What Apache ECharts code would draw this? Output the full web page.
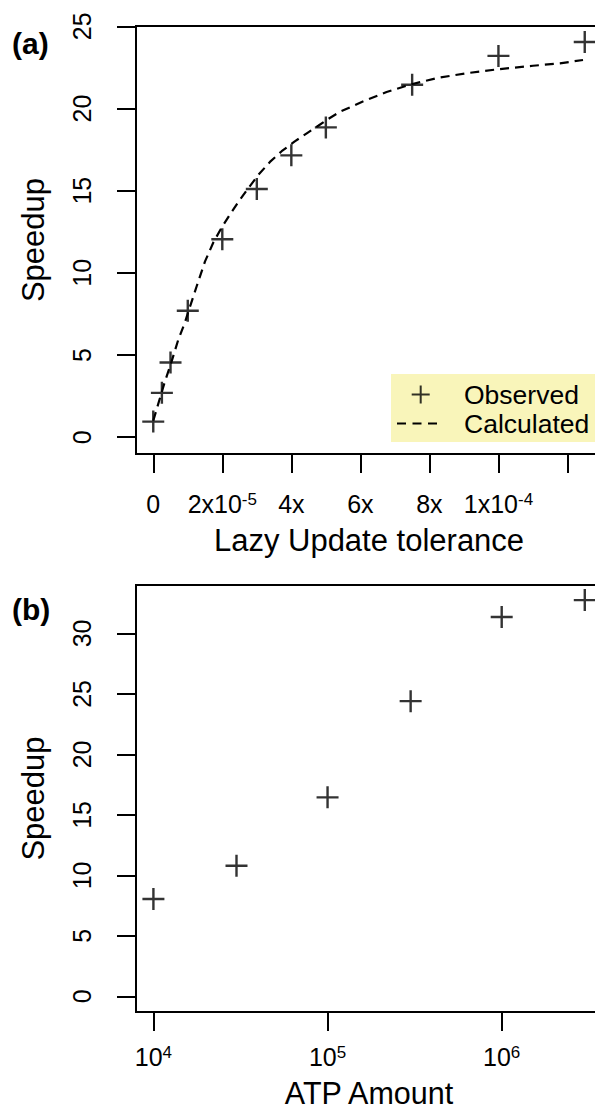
<!DOCTYPE html>
<html><head><meta charset="utf-8">
<script src="https://cdn.jsdelivr.net/npm/echarts@6/dist/echarts.min.js"></script>
<style>html,body{margin:0;padding:0;background:#fff}#c{width:595px;height:1111px}</style>
</head><body><div id="c"></div>
<script>
// Panel (a): Lazy Update tolerance vs Speedup
const obsTolerance = [0, 2.5e-6, 5e-6, 1e-5, 2e-5, 3e-5, 4e-5, 5e-5, 7.5e-5, 1e-4, 1.25e-4];
const obsSpeedupA = [0.95, 2.7, 4.55, 7.7, 12.05, 15.1, 17.15, 18.85, 21.45, 23.2, 24.05];
const calcTolerance = [0, 3.1e-6, 5.3e-6, 7.2e-6, 9.2e-6, 1.01e-5, 1.26e-5, 1.5e-5, 1.74e-5, 1.98e-5, 2.22e-5, 2.46e-5, 2.7e-5, 3.04e-5, 3.38e-5, 3.72e-5, 4.1e-5, 4.49e-5, 4.78e-5, 5.02e-5, 5.41e-5, 6.04e-5, 6.76e-5, 7.43e-5, 8.21e-5, 9.08e-5, 1.004e-4, 1.1e-4, 1.178e-4, 1.245e-4];
const calcSpeedup = [1.0, 3.2, 4.6, 5.9, 7.0, 7.6, 9.2, 10.7, 11.85, 12.75, 13.55, 14.3, 15.0, 15.95, 16.75, 17.4, 18.0, 18.55, 18.95, 19.3, 19.8, 20.4, 21.0, 21.45, 21.85, 22.15, 22.4, 22.6, 22.75, 22.95];
const xTicksA = [0, 2e-5, 4e-5, 6e-5, 8e-5, 1e-4, 1.2e-4];
const xTickLabelsA = ['0', '2x10^-5', '4x', '6x', '8x', '1x10^-4', ''];
const yTicksA = [0, 5, 10, 15, 20, 25];

// Panel (b): ATP Amount vs Speedup
const atpAmount = [1e4, 3e4, 1e5, 3e5, 1e6, 3e6];
const obsSpeedupB = [8.05, 10.8, 16.45, 24.4, 31.35, 32.75];
const xTicksB = [1e4, 1e5, 1e6];
const xTickLabelsB = ['10^4', '10^5', '10^6'];
const yTicksB = [0, 5, 10, 15, 20, 25, 30];

const FONT = '"Liberation Sans", Arial, Helvetica, sans-serif';
const plusPath = 'path://M9.8,0h2.4v22h-2.4z M0,9.8h22v2.4h-22z';
const legendPlus = 'path://M0,0h.01v.01h-.01z M39.99,21.99h.01v.01h-.01z M22.7,2h2v18h-2z M14.7,10h18v2h-18z';
const legendDash = 'path://M0,0h.01v.01h-.01z M39.99,21.99h.01v.01h-.01z M0,10h9v2h-9z M15.5,10h9v2h-9z M31,10h9v2h-9z';

function toRich(s) {
  const i = s.indexOf('^');
  return i < 0 ? s : s.slice(0, i) + '{sup|' + s.slice(i + 1) + '}';
}
function makeFormatter(vals, labels, tol) {
  return function (v) {
    for (let i = 0; i < vals.length; i++) {
      if (Math.abs(v - vals[i]) <= tol * Math.abs(vals[i] || 1)) return toRich(labels[i]);
    }
    return '';
  };
}
const richSup = { sup: { fontSize: 17, verticalAlign: 'top', fontFamily: FONT, color: '#000' } };
const tickStyle = { show: true, inside: false, length: 19, lineStyle: { color: '#000', width: 2 } };
const labelBase = { color: '#000', fontSize: 25, fontFamily: FONT };
const nameStyle = { color: '#000', fontSize: 31, fontFamily: FONT };

const chart = echarts.init(document.getElementById('c'), null, { renderer: 'svg' });
chart.setOption({
  animation: false,
  backgroundColor: '#fff',
  title: [
    { text: '(a)', left: 12, top: 28, padding: 0, textStyle: { fontSize: 30, fontWeight: 'bold', color: '#000', fontFamily: FONT } },
    { text: '(b)', left: 12, top: 594, padding: 0, textStyle: { fontSize: 30, fontWeight: 'bold', color: '#000', fontFamily: FONT } }
  ],
  grid: [
    { left: 136, top: 26, right: -7, bottom: 657, show: true, borderColor: '#000', borderWidth: 2, backgroundColor: 'transparent', outerBoundsMode: 'none', containLabel: false },
    { left: 136, top: 585, right: -7, bottom: 99, show: true, borderColor: '#000', borderWidth: 2, backgroundColor: 'transparent', outerBoundsMode: 'none', containLabel: false }
  ],
  legend: {
    orient: 'vertical', left: 391, top: 374,
    backgroundColor: '#F9F5BA', borderWidth: 0,
    padding: [7, 30, 5, 6], itemGap: 2, itemWidth: 40, itemHeight: 22,
    textStyle: { color: '#000', fontSize: 26.5, fontFamily: FONT, padding: [0, 0, 0, 22] },
    data: [{ name: 'Observed', icon: legendPlus }, { name: 'Calculated', icon: legendDash }]
  },
  xAxis: [
    {
      gridIndex: 0, type: 'value', min: -5e-6, max: 1.3e-4,
      axisLine: { show: false, onZero: false }, splitLine: { show: false },
      axisTick: Object.assign({ customValues: xTicksA }, tickStyle),
      axisLabel: Object.assign({ customValues: xTicksA.slice(0, 6), margin: 37, rich: richSup,
        formatter: makeFormatter(xTicksA, xTickLabelsA, 1e-6) }, labelBase),
      name: 'Lazy Update tolerance', nameLocation: 'middle', nameGap: 71, nameTextStyle: nameStyle
    },
    {
      gridIndex: 1, type: 'log', logBase: 10, min: Math.pow(10, 3.9), max: Math.pow(10, 6.576),
      axisLine: { show: false, onZero: false }, splitLine: { show: false }, minorTick: { show: false },
      axisTick: Object.assign({ customValues: xTicksB }, tickStyle),
      axisLabel: Object.assign({ customValues: xTicksB, margin: 32, rich: richSup,
        formatter: makeFormatter(xTicksB, xTickLabelsB, 1e-6) }, labelBase),
      name: 'ATP Amount', nameLocation: 'middle', nameGap: 65,
      nameTextStyle: Object.assign({}, nameStyle, { fontSize: 30.5 })
    }
  ],
  yAxis: [
    {
      gridIndex: 0, type: 'value', min: -1.02, max: 25.02,
      axisLine: { show: false, onZero: false }, splitLine: { show: false },
      axisTick: Object.assign({ customValues: yTicksA }, tickStyle),
      axisLabel: Object.assign({ customValues: yTicksA, rotate: 90, margin: 42 }, labelBase),
      name: 'Speedup', nameLocation: 'middle', nameGap: 87, nameTextStyle: nameStyle
    },
    {
      gridIndex: 1, type: 'value', min: -1.29, max: 34.0,
      axisLine: { show: false, onZero: false }, splitLine: { show: false },
      axisTick: Object.assign({ customValues: yTicksB }, tickStyle),
      axisLabel: Object.assign({ customValues: yTicksB, rotate: 90, margin: 42 }, labelBase),
      name: 'Speedup', nameLocation: 'middle', nameGap: 87, nameTextStyle: nameStyle
    }
  ],
  series: [
    {
      name: 'Calculated', type: 'line', xAxisIndex: 0, yAxisIndex: 0,
      data: calcTolerance.map((x, i) => [x, calcSpeedup[i]]),
      symbol: 'none', showSymbol: false, smooth: false, clip: true,
      lineStyle: { color: '#000', width: 2.2, type: [9, 6] }, itemStyle: { color: '#000' }
    },
    {
      name: 'Observed', type: 'scatter', xAxisIndex: 0, yAxisIndex: 0,
      data: obsTolerance.map((x, i) => [x, obsSpeedupA[i]]),
      symbol: plusPath, symbolSize: 22, symbolKeepAspect: true, clip: false,
      itemStyle: { color: '#000' }
    },
    {
      name: 'ATP', type: 'scatter', xAxisIndex: 1, yAxisIndex: 1,
      data: atpAmount.map((x, i) => [x, obsSpeedupB[i]]),
      symbol: plusPath, symbolSize: 22, symbolKeepAspect: true, clip: false,
      itemStyle: { color: '#000' }
    }
  ]
});
</script></body></html>
